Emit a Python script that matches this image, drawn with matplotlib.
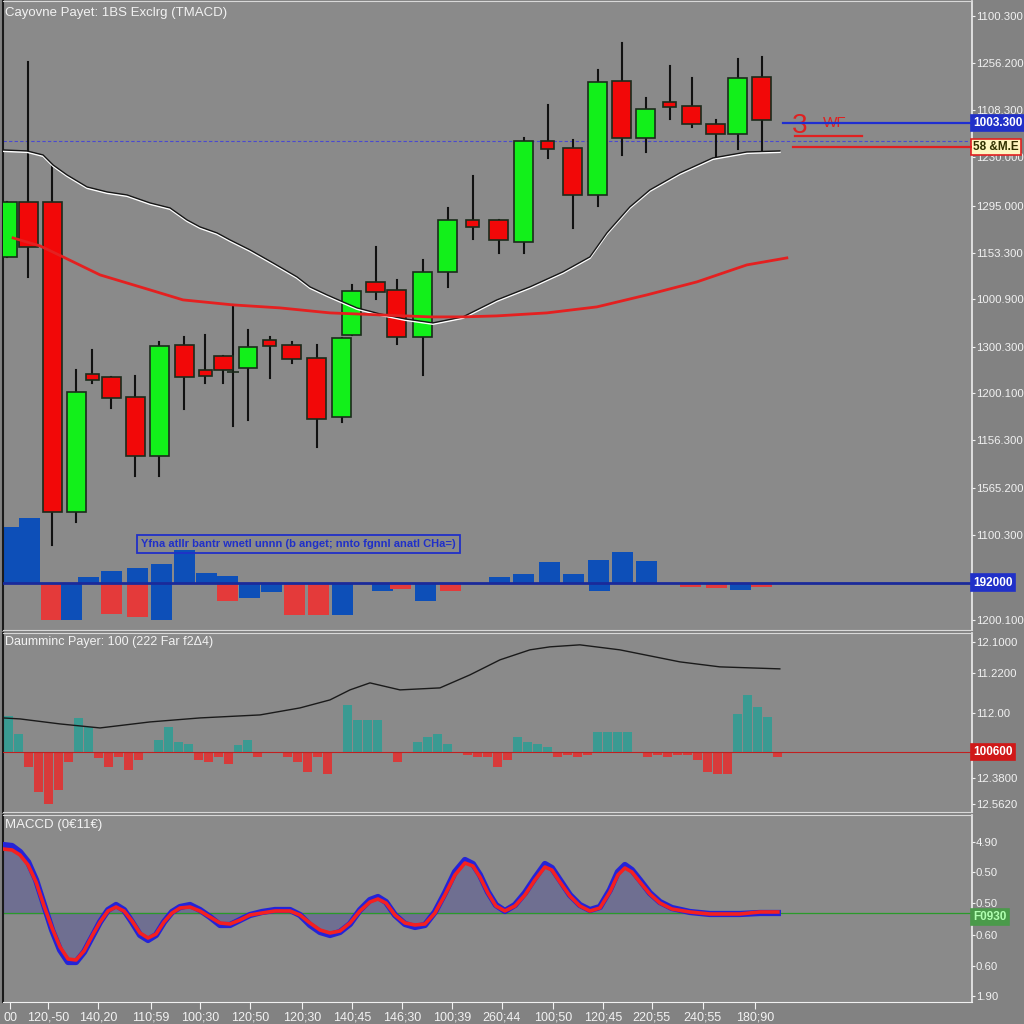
import numpy as np
import matplotlib
matplotlib.use("Agg")
import matplotlib.pyplot as plt
from matplotlib.patches import Rectangle

plt.rcParams['font.family'] = ['Liberation Sans', 'DejaVu Sans']

#%% Data
# candles: x position (bar time), open, close, high, low
bar_x = [7, 28, 52, 76, 92, 111, 135, 159, 184, 205, 223, 233, 248, 270, 292, 317,
         342, 352, 376, 397, 423, 448, 473, 499, 524, 548, 573, 598, 622, 646, 670,
         692, 716, 738, 762]
bar_open = [373, 428, 428, 118, 256, 253, 233, 174, 285, 260, 274, 258, 262, 290, 285, 272,
            213, 295, 348, 340, 293, 358, 410, 410, 388, 489, 482, 435, 549, 492, 528,
            524, 506, 496, 553]
bar_close = [428, 383, 118, 238, 250, 232, 174, 284, 253, 254, 260, 258, 283, 284, 271, 211,
             292, 339, 338, 293, 358, 410, 403, 390, 489, 481, 435, 548, 492, 521, 523,
             506, 496, 552, 510]
bar_high = [428, 568, 465, 260, 280, 253, 254, 288, 293, 295, 274, 325, 300, 293, 288, 285,
            292, 345, 383, 350, 370, 422, 454, 410, 492, 525, 490, 560, 587, 532, 564,
            552, 510, 571, 573]
bar_low = [373, 353, 85, 108, 247, 222, 154, 154, 221, 247, 247, 204, 210, 252, 267, 183,
           208, 295, 331, 286, 255, 343, 391, 377, 377, 472, 402, 424, 475, 478, 511,
           503, 473, 481, 478]

# moving averages on price panel
ma_fast_x = [3, 27, 43, 53, 67, 87, 107, 127, 150, 170, 187, 200, 217, 230, 250, 273, 297,
             310, 327, 343, 357, 380, 405, 433, 463, 497, 530, 563, 590, 607, 630, 650,
             680, 713, 747, 780]
ma_fast = [480, 479, 475, 465, 455, 443, 438, 435, 427, 422, 410, 403, 397, 390, 380, 367,
           353, 343, 335, 328, 322, 316, 311, 307, 313, 330, 343, 358, 373, 397, 423, 440,
           457, 472, 478, 479]
ma_slow_x = [13, 40, 63, 100, 150, 183, 233, 280, 330, 380, 430, 463, 497, 547, 597, 647,
             697, 747, 787]
ma_slow = [392, 384, 373, 355, 340, 330, 325, 322, 317, 315, 313, 313, 314, 317, 323, 335,
           348, 365, 372]

# volume style bars on price panel (baseline 47)
vol_up_x = [10, 29, 88, 111, 137, 161, 184, 206, 227, 500, 524, 550, 574, 599, 623, 647]
vol_up = [56, 65, 6, 12, 15, 19, 33, 10, 7, 6, 9, 21, 9, 23, 31, 22]
vol_dn_x = [51, 71, 111, 137, 161, 227, 250, 272, 295, 319, 343, 383, 401, 426, 451, 600,
            691, 717, 741, 762]
vol_dn = [-37, -37, -31, -34, -37, -18, -15, -9, -32, -32, -32, -8, -6, -18, -8, -8,
          -4, -5, -7, -4]
vol_dn_kind = ['r', 'b', 'r', 'r', 'b', 'r', 'b', 'b', 'r', 'r', 'b', 'b', 'r', 'b', 'r', 'b',
               'r', 'r', 'b', 'r']

main_ticks = [614, 567, 520, 473, 424, 377, 331, 283, 237, 190, 142, 95, 10]
main_labels = ["1100.300", "1256.200", "1108.300", "1230.000", "1295.000", "1153.300",
               "1000.900", "1300.300", "1200.100", "1156.300", "1565.200", "1100.300",
               "1200.100"]

# second panel histogram + line
hist_x = np.arange(8, 779, 10)
hist_val = [36, 18, -15, -40, -52, -38, -10, 34, 25, -6,
            -15, -5, -18, -8, 0, 12, 25, 10, 8, -8,
            -10, -5, -12, 7, 12, -5, 0, 0, -5, -10,
            -20, -5, -22, 0, 47, 32, 32, 32, 0, -10,
            0, 10, 15, 18, 8, 0, -3, -5, -5, -15,
            -8, 15, 10, 8, 5, -5, -3, -5, -3, 20,
            20, 20, 20, 0, -5, -3, -5, -3, -3, -8,
            -20, -22, -22, 38, 57, 45, 35, -5]
osc_x = [3, 20, 60, 100, 150, 200, 260, 300, 330, 350, 370, 400, 440, 470, 500, 530, 550,
         580, 620, 680, 720, 780]
osc_line = [34, 33, 28, 24, 30, 34, 37, 44, 52, 62, 69, 62, 64, 77, 92, 102, 105, 107, 102,
            90, 85, 83]
p2_ticks = [110, 79, 39, -26, -52]
p2_labels = ["12.1000", "11.2200", "112.00", "12.3800", "12.5620"]

# MACD panel
macd_x = [3, 12, 20, 28, 36, 44, 52, 60, 68, 76, 84, 92, 100, 108, 116, 124, 132, 140, 148,
          156, 164, 172, 180, 190, 200, 210, 220, 230, 240, 250, 262, 275, 290, 300, 310,
          320, 330, 340, 350, 360, 370, 378, 386, 395, 405, 415, 425, 435, 445, 455, 465,
          473, 480, 488, 496, 505, 515, 525, 535, 545, 552, 560, 570, 580, 590, 600, 610,
          618, 625, 632, 640, 650, 660, 672, 690, 710, 740, 760, 778]
macd = [68, 67, 61, 51, 33, 8, -17, -37, -49, -49, -39, -24, -9, 3, 8, 3, -9, -22, -27,
        -22, -9, 1, 6, 8, 3, -4, -12, -12, -7, -2, 1, 3, 3, -2, -12,
        -19, -22, -19, -11, 3, 13, 16, 11, -2, -11, -14, -12, 1, 20, 41, 53,
        49, 38, 21, 8, 2, 8, 20, 35, 49, 45, 33, 18, 8, 3, 6, 23,
        41, 48, 43, 33, 20, 11, 5, 1, -1, -1, 0, 0]
signal = [64, 63, 58, 48, 31, 7, -15, -34, -46, -47, -38, -23, -9, 2, 6, 2, -8, -20, -25,
          -21, -9, 0, 5, 6, 2, -4, -10, -11, -7, -2, 0, 2, 2, -2, -10,
          -17, -20, -18, -10, 2, 11, 14, 10, -2, -10, -12, -11, 0, 18, 38, 50,
          47, 36, 20, 7, 2, 7, 18, 33, 46, 43, 31, 17, 7, 2, 5, 21,
          38, 45, 41, 31, 19, 10, 4, 1, -1, -1, 1, 1]
p3_ticks = [71, 41, 10, -22, -53, -83]
p3_labels = ["4.90", "0.50", "0.50", "0.60", "0.60", "1.90"]

time_x = [10, 48, 98, 151, 200, 250, 302, 352, 402, 452, 502, 553, 603, 652, 703, 755]
time_labels = ["00", "120,-50", "140,20", "110;59", "100;30", "120;50", "120;30", "140;45",
               "146;30", "100;39", "260;44", "100;50", "120;45", "220;55", "240;55", "180;90"]

#%% Figure
bg = '#828282'
panel = '#8a8a8a'
txt = '#f2f2f2'
narrow = ['Liberation Sans Narrow', 'Liberation Sans', 'DejaVu Sans']
fig = plt.figure(figsize=(10.24, 10.24), dpi=100, facecolor=bg)
ax1 = fig.add_axes([0.003, 0.385, 0.946, 0.614], facecolor=panel)
ax2 = fig.add_axes([0.003, 0.207, 0.946, 0.175], facecolor=panel)
ax3 = fig.add_axes([0.003, 0.0215, 0.946, 0.1826], facecolor=panel)

for ax in (ax1, ax2, ax3):
    ax.set_xlim(3, 972)
    ax.yaxis.tick_right()
    ax.tick_params(axis='y', colors=txt, labelsize=8.2, length=2.5, width=0.8, pad=0.5)
    ax.spines['left'].set_color('#1a1a1a')
    ax.spines['left'].set_linewidth(1.5)
    ax.spines['right'].set_color('#eeeeee')
    ax.spines['right'].set_linewidth(1.2)
    ax.spines['top'].set_color('#d8d8d8')
    ax.spines['bottom'].set_color('#d8d8d8')
for ax in (ax1, ax2):
    ax.set_xticks([])

def price_tag(ax, y, text, face, edge, color):
    ax.annotate(text, xy=(1, y), xycoords=('axes fraction', 'data'), xytext=(1, 0),
                textcoords='offset points', va='center', ha='left', fontsize=8.5,
                color=color, fontweight='bold', family=narrow,
                bbox=dict(boxstyle='square,pad=0.2', fc=face, ec=edge, lw=1.2),
                annotation_clip=False)

def set_right_labels(ax, ticks, labels):
    ax.set_yticks(ticks)
    ax.set_yticklabels(labels, family=narrow)

#%% Price panel
ax1.set_ylim(0, 629)
for x, o, c, h, l in zip(bar_x, bar_open, bar_close, bar_high, bar_low):
    up = c >= o
    w = 19 if abs(c - o) > 9 else 13
    ax1.plot([x, x], [l, h], color='#111111', lw=1.5, zorder=2)
    ax1.add_patch(Rectangle((x - w / 2, min(o, c)), w, abs(c - o),
                            facecolor='#12f01a' if up else '#f20808',
                            edgecolor='#1b2a1b', lw=1.2, zorder=3))

ax1.plot(ma_fast_x, np.array(ma_fast) - 1.2, color='white', lw=1.3, zorder=4)
ax1.plot(ma_fast_x, ma_fast, color='#151515', lw=1.0, zorder=4)
ax1.plot(ma_slow_x, ma_slow, color='#e42020', lw=2.0, zorder=4)

ax1.axhline(489, color='#4a4ad0', lw=0.8, ls=(0, (3, 2)), zorder=1)
ax1.plot([783, 972], [507, 507], color='#1f2fd0', lw=1.6, zorder=4)
ax1.plot([793, 972], [483, 483], color='#e02020', lw=1.6, zorder=4)
ax1.plot([795, 862], [494, 494], color='#e02020', lw=1.6, zorder=4)
ax1.text(792, 504, "3", color='#e02020', fontsize=20, ha='left', va='center')
ax1.text(823, 507, "WF", color='#e02020', fontsize=11, ha='left', va='center')

ax1.bar(vol_up_x, vol_up, width=21, bottom=47, color='#0d4fb8', zorder=2)
ax1.bar(vol_dn_x, vol_dn, width=21, bottom=47,
        color=['#e43a3a' if k == 'r' else '#0d4fb8' for k in vol_dn_kind], zorder=2)
ax1.axhline(47, color='#1a2a9a', lw=2.0, zorder=3)
ax1.text(141, 86, "Yfna atllr bantr wnetl unnn (b anget; nnto fgnnl anatl CHa=)",
         color='#2030c8', fontsize=8, fontweight='bold', va='center', ha='left',
         bbox=dict(boxstyle='square,pad=0.35', fc='none', ec='#2030c8', lw=1.3))
ax1.text(5, 617, "Cayovne Payet: 1BS Exclrg (TMACD)", color=txt, fontsize=9.5,
         ha='left', va='center')

set_right_labels(ax1, main_ticks, main_labels)
price_tag(ax1, 507, "1003.300", '#2030c8', '#2030c8', 'white')
price_tag(ax1, 483, "58 &M.E", '#fff6c0', '#e02020', '#303000')
price_tag(ax1, 47, "192000", '#2030c8', '#2030c8', 'white')

#%% Second panel
ax2.set_ylim(-60, 119)
ax2.bar(hist_x, hist_val, width=9,
        color=['#3a9a92' if v >= 0 else '#d83a3a' for v in hist_val], zorder=2)
ax2.axhline(0, color='#c02020', lw=0.8, zorder=3)
ax2.plot(osc_x, osc_line, color='#1a1a1a', lw=1.0, zorder=4)
ax2.text(5, 110, "Daumminc Payer: 100 (222 Far f2\u03944)", color=txt, fontsize=9,
         ha='left', va='center')
set_right_labels(ax2, p2_ticks, p2_labels)
price_tag(ax2, 0, "100600", '#d01818', '#d01818', 'white')

#%% MACD panel
ax3.set_ylim(-89, 98)
ax3.fill_between(macd_x, 0, macd, color='#6c6c92', alpha=0.9, zorder=1)
ax3.axhline(0, color='#2a9a2a', lw=0.9, zorder=2)
ax3.plot(macd_x, macd, color='#2424d8', lw=4.5, zorder=3)
ax3.plot(macd_x, signal, color='#f42020', lw=2.6, zorder=4)
ax3.text(5, 88, "MACCD (0\u20ac11\u20ac)", color=txt, fontsize=9.5, ha='left', va='center')
set_right_labels(ax3, p3_ticks, p3_labels)
price_tag(ax3, -4, "F0930", '#4a9a4a', '#4a9a4a', '#b0ffb0')

ax3.set_xticks(time_x)
ax3.set_xticklabels(time_labels, family=narrow)
ax3.tick_params(axis='x', colors=txt, labelsize=9, length=5, width=0.8, pad=2)
ax3.spines['bottom'].set_color('#f0f0f0')

fig.savefig("out.png", dpi=100, facecolor=bg)
